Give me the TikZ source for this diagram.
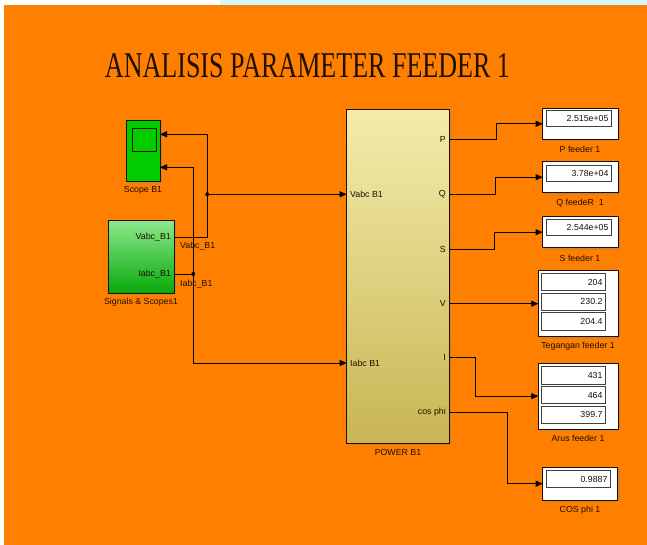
\documentclass[tikz,border=0pt]{standalone}
\usepackage{graphicx}
\usepackage{fontspec}
\setmainfont{Liberation Serif}
\newfontfamily\blkfont{Liberation Sans}
\usetikzlibrary{arrows.meta,shadows}

\definecolor{canvas}{RGB}{255,128,0}
\definecolor{inkdark}{RGB}{30,15,0}
\definecolor{scopegreen}{RGB}{0,204,0}
\definecolor{sigtop}{RGB}{140,232,140}
\definecolor{sigbot}{RGB}{8,168,8}
\definecolor{pwrtop}{RGB}{244,236,172}
\definecolor{pwrbot}{RGB}{200,182,84}
\definecolor{haze}{RGB}{215,245,250}

\tikzset{
  blk/.style={draw=inkdark, line width=0.9pt, anchor=north west, inner sep=0pt, outer sep=0pt,
    drop shadow={shadow xshift=2pt, shadow yshift=-2pt, opacity=0.3}},
  scopebk/.style={blk, fill=scopegreen},
  sigbk/.style={blk, top color=sigtop, bottom color=sigbot},
  pwrbk/.style={blk, top color=pwrtop, bottom color=pwrbot},
  dispbk/.style={blk, fill=white},
  field/.style={draw=black!75, line width=0.8pt, fill=white, anchor=north west, inner sep=0pt, outer sep=0pt},
  txt/.style={font=\blkfont\fontsize{8.8}{10}\selectfont, text=inkdark, inner sep=0pt},
  rtxt/.style={txt, anchor=east},
  ltxt/.style={txt, anchor=west},
  wire/.style={draw=black, line width=0.8pt},
  feed/.style={wire, -{Triangle[length=7pt,width=6pt]}},
  dot/.style={circle, fill=black, inner sep=0pt, minimum size=4pt},
}

\begin{document}
\begin{tikzpicture}[x=1pt,y=-1pt]
\useasboundingbox (0,0) rectangle (647,545);
\fill[white] (0,0) rectangle (647,545);
\fill[haze] (220,0) rectangle (647,5);
\fill[canvas] (4,5) rectangle (647,545);

% title
\node[anchor=base, inner sep=0pt, text=inkdark] (title) at (307.5,78)
  {\resizebox{405pt}{24pt}{ANALISIS PARAMETER FEEDER 1}};

% scope block
\node[scopebk, minimum width=33.3pt, minimum height=61.7pt] (scope) at (126.7,120) {};
\node[draw=inkdark, line width=0.9pt, anchor=north west, inner sep=0pt,
      minimum width=23.7pt, minimum height=22.4pt] (screen) at (132.3,128.3) {};
\node[txt] (scopelbl) at (143,190.7) {Scope B1};

% signals & scopes block
\node[sigbk, minimum width=65.7pt, minimum height=72.6pt] (sig) at (108.3,220.7) {};
\node[rtxt] (sigv) at (171,237.3) {Vabc\_B1};
\node[rtxt] (sigi) at (171,274) {Iabc\_B1};
\node[txt] (siglbl) at (141,302.7) {Signals \& Scopes1};

% power block
\node[pwrbk, minimum width=102.6pt, minimum height=334pt] (pwr) at (346.7,109.3) {};
\node[ltxt] (inV) at (350,194.3) {Vabc B1};
\node[ltxt] (inI) at (350,363) {Iabc B1};
\node[rtxt] (oP) at (446,139.3) {P};
\node[rtxt] (oQ) at (446,194.3) {Q};
\node[rtxt] (oS) at (446,249) {S};
\node[rtxt] (oV) at (446,303.3) {V};
\node[rtxt] (oI) at (446,357.7) {I};
\node[rtxt] (oC) at (446,412.7) {cos phi};
\node[txt] (pwrlbl) at (398,452) {POWER B1};

% single-value displays
\node[dispbk, minimum width=75.6pt, minimum height=31pt] (dP) at (542.7,108.3) {};
\node[field, minimum width=65pt, minimum height=16pt] (fP) at (546.7,110) {};
\node[rtxt] at ([xshift=-3pt]fP.east) {2.515e+05};
\node[txt] (lP) at (580,149.3) {P feeder 1};

\node[dispbk, minimum width=75.6pt, minimum height=31pt] (dQ) at (542.7,161.7) {};
\node[field, minimum width=65pt, minimum height=16pt] (fQ) at (546.7,165) {};
\node[rtxt] at ([xshift=-3pt]fQ.east) {3.78e+04};
\node[txt] (lQ) at (580,203.3) {Q feedeR\ \ 1};

\node[dispbk, minimum width=75.6pt, minimum height=31pt] (dS) at (542.7,216.7) {};
\node[field, minimum width=65pt, minimum height=16pt] (fS) at (546.7,219.7) {};
\node[rtxt] at ([xshift=-3pt]fS.east) {2.544e+05};
\node[txt] (lS) at (580,258) {S feeder 1};

\node[dispbk, minimum width=75pt, minimum height=32.7pt] (dC) at (542.7,467.3) {};
\node[field, minimum width=64pt, minimum height=16.6pt] (fC) at (546.7,470.7) {};
\node[rtxt] at ([xshift=-3pt]fC.east) {0.9887};
\node[txt] (lC) at (580,510) {COS phi 1};

% three-value displays
\node[dispbk, minimum width=80pt, minimum height=66pt] (dV) at (538.3,270.7) {};
\node[field, minimum width=64pt, minimum height=17.4pt] (fV1) at (541.7,273.3) {};
\node[field, minimum width=64pt, minimum height=16.7pt] (fV2) at (541.7,293.3) {};
\node[field, minimum width=64pt, minimum height=17.3pt] (fV3) at (541.7,312.7) {};
\node[rtxt] at ([xshift=-3pt]fV1.east) {204};
\node[rtxt] at ([xshift=-3pt]fV2.east) {230.2};
\node[rtxt] at ([xshift=-3pt]fV3.east) {204.4};
\node[txt] (lV) at (578,346) {Tegangan feeder 1};

\node[dispbk, minimum width=80pt, minimum height=65.7pt] (dI) at (538.3,363.3) {};
\node[field, minimum width=64pt, minimum height=17.6pt] (fI1) at (541.7,366.7) {};
\node[field, minimum width=64pt, minimum height=16.6pt] (fI2) at (541.7,386.7) {};
\node[field, minimum width=64pt, minimum height=17.3pt] (fI3) at (541.7,406) {};
\node[rtxt] at ([xshift=-3pt]fI1.east) {431};
\node[rtxt] at ([xshift=-3pt]fI2.east) {464};
\node[rtxt] at ([xshift=-3pt]fI3.east) {399.7};
\node[txt] (lI) at (578,438.3) {Arus feeder 1};

% ports and junctions
\coordinate (so1) at (174,237.3);
\coordinate (so2) at (174,274);
\coordinate (si1) at (160,134.3);
\coordinate (si2) at (160,167.3);
\coordinate (pi1) at (346.7,194.3);
\coordinate (pi2) at (346.7,363);
\node[dot] (jv) at (207.3,194.3) {};
\node[dot] (ji) at (193.3,274) {};

\coordinate (pP) at (449.3,139.3);
\coordinate (pQ) at (449.3,194.3);
\coordinate (pS) at (449.3,249);
\coordinate (pV) at (449.3,303.7);
\coordinate (pI) at (449.3,357.7);
\coordinate (pC) at (449.3,412.7);
\coordinate (bP) at (496.7,139.3);
\coordinate (bQ) at (495,194.3);
\coordinate (bS) at (494,249);
\coordinate (bI) at (475,357.7);
\coordinate (bC) at (507.3,412.7);

% signal labels on the lines
\node[ltxt] (wv) at (180,246) {Vabc\_B1};
\node[ltxt] (wi) at (180,284) {Iabc\_B1};

% wiring on the input side
\draw[wire] (so1) -| (jv.center);
\draw[feed] (jv.center) |- (si1);
\draw[feed] (jv.center) -- (pi1);
\draw[wire] (so2) -- (ji.center);
\draw[feed] (ji.center) |- (si2);
\draw[feed] (ji.center) |- (pi2);

% wiring on the output side
\draw[feed] (pP) -- (bP) |- (dP.west);
\draw[feed] (pQ) -- (bQ) |- (dQ.west);
\draw[feed] (pS) -- (bS) |- (dS.west);
\draw[feed] (pV) -- (dV.west);
\draw[feed] (pI) -- (bI) |- (dI.west);
\draw[feed] (pC) -- (bC) |- (dC.west);
\end{tikzpicture}
\end{document}
